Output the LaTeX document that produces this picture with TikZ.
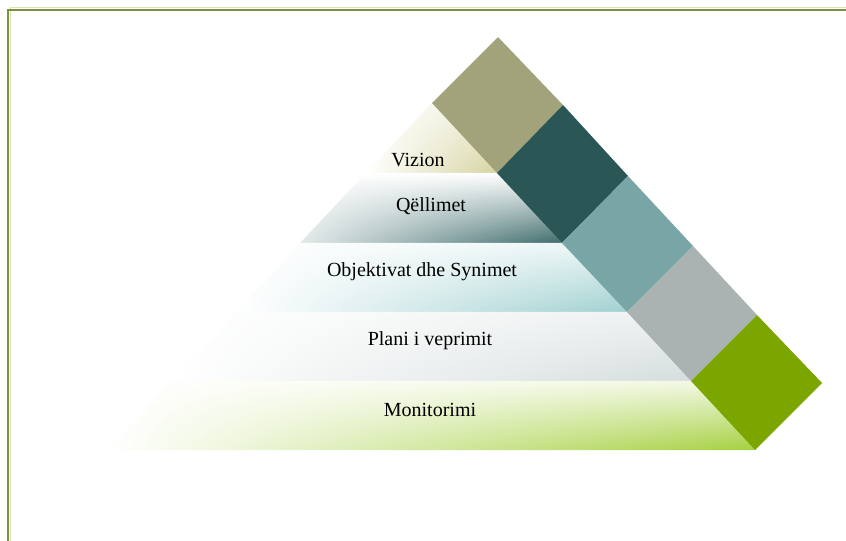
\documentclass[tikz,border=0pt]{standalone}
\usepackage{fontspec}
\setmainfont{Liberation Serif}
\usetikzlibrary{positioning}
\usetikzlibrary{shadings}

\definecolor{borde}{HTML}{77933C}
\definecolor{bordeclaro}{HTML}{D7E4BD}
\definecolor{caqui}{HTML}{A3A37B}
\definecolor{tealoscuro}{HTML}{2A5656}
\definecolor{tealmedio}{HTML}{78A6A6}
\definecolor{grisazul}{HTML}{ABB2B2}
\definecolor{verde}{HTML}{7BA600}
\definecolor{caquiclaro}{HTML}{D6D4A0}
\definecolor{tealsombra}{HTML}{3E6B6B}
\definecolor{tealclaro}{HTML}{A0D0D0}
\definecolor{grisclaro}{HTML}{D5DDDD}
\definecolor{verdeclaro}{HTML}{A5D040}

\begin{document}
\begin{tikzpicture}[x=0.75pt, y=-0.75pt,
    etiqueta/.style={font=\fontsize{15}{18}\selectfont, text=black, inner sep=0pt}]
            \useasboundingbox (0,0) rectangle (846,541);

            % Marco
            \draw[bordeclaro, line width=1.2pt] (10.5,541) -- (10.5,7.5) -- (846,7.5);
            \draw[borde, line width=2pt] (8,541) -- (8,10) -- (846,10);

            % Puntos
            \coordinate (t1) at (498,37);
            \coordinate (r0) at (432,103);
            \coordinate (r1) at (497,173);
            \coordinate (r2) at (562,243);
            \coordinate (r3) at (627,312);
            \coordinate (r4) at (691,381);
            \coordinate (r5) at (755,450);
            \coordinate (c1) at (563,105);
            \coordinate (c2) at (628,176);
            \coordinate (c3) at (693,246);
            \coordinate (c4) at (757,315);
            \coordinate (c5) at (822,383);
            \coordinate (l1) at (366,173);
            \coordinate (l2) at (300,243);
            \coordinate (l3) at (236,312);
            \coordinate (l4) at (172,381);
            \coordinate (l5) at (108,450);

            % Bandas
            \shade[upper left=white, upper right=caquiclaro!35, lower left=white, lower right=caquiclaro]
                (r0) -- (r1) -- (l1) -- cycle;
            \shade[upper left=white, upper right=white, lower left=white!85!tealsombra, lower right=tealsombra]
                (l1) -- (r1) -- (r2) -- (l2) -- cycle;
            \shade[upper left=white, upper right=tealclaro!20, lower left=white, lower right=tealclaro]
                (l2) -- (r2) -- (r3) -- (l3) -- cycle;
            \shade[upper left=white, upper right=grisclaro!40, lower left=white, lower right=grisclaro]
                (l3) -- (r3) -- (r4) -- (l4) -- cycle;
            \shade[upper left=white, upper right=verdeclaro!15, lower left=white, lower right=verdeclaro]
                (l4) -- (r4) -- (r5) -- (l5) -- cycle;

            % Cuadros
            \fill[caqui] (r0) -- (t1) -- (c1) -- (r1) -- cycle;
            \fill[tealoscuro] (r1) -- (c1) -- (c2) -- (r2) -- cycle;
            \fill[tealmedio] (r2) -- (c2) -- (c3) -- (r3) -- cycle;
            \fill[grisazul] (r3) -- (c3) -- (c4) -- (r4) -- cycle;
            \fill[verde] (r4) -- (c4) -- (c5) -- (r5) -- cycle;

            % Textos
            \node[etiqueta] (vizion) at (418,160) {Vizion};
            \node[etiqueta] (qellimet) at (431,206) {Qëllimet};
            \node[etiqueta] (objektivat) at (422,272) {Objektivat dhe Synimet};
            \node[etiqueta] (plani) at (430,341) {Plani i veprimit};
            \node[etiqueta] (monitorimi) at (430,410) {Monitorimi};
\end{tikzpicture}
\end{document}
